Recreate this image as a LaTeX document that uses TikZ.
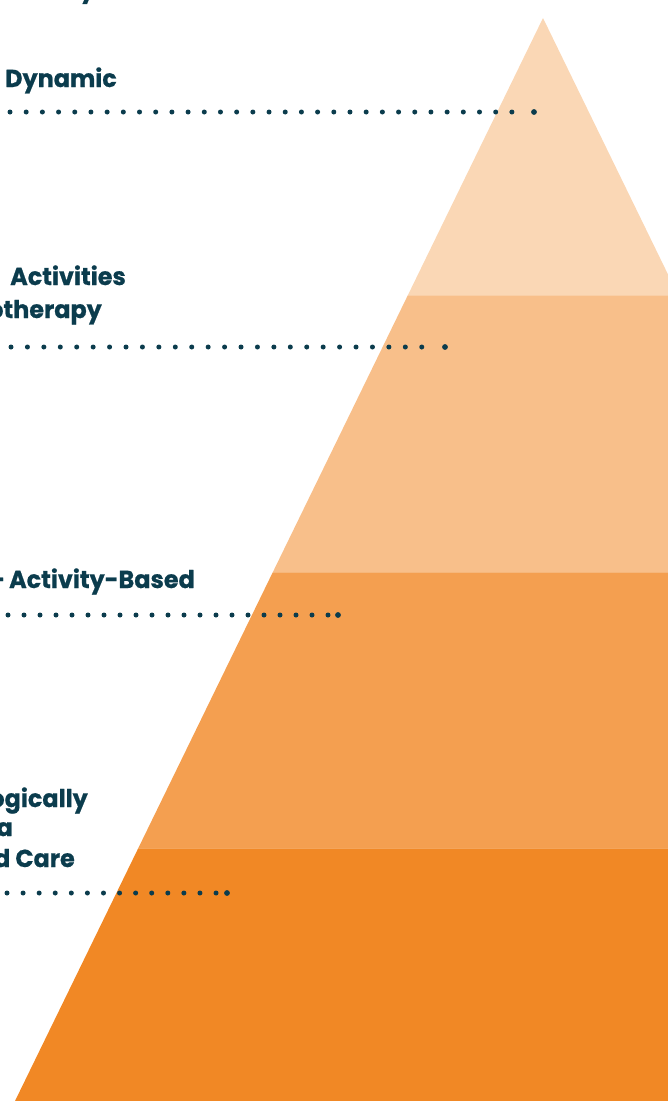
\documentclass[tikz,border=0pt]{standalone}
\usepackage{fontspec}
\setmainfont{Poppins}
\newfontfamily\tierfont{Poppins}[BoldFeatures={FakeBold=0.7,FakeStretch=0.975}]

\definecolor{tierA}{HTML}{FAD7B5}
\definecolor{tierB}{HTML}{F8BF8A}
\definecolor{tierC}{HTML}{F49F50}
\definecolor{tierD}{HTML}{F18825}
\definecolor{ink}{HTML}{0B3C4D}

\tikzset{
  tiertext/.style={font=\tierfont\bfseries\fontsize{24.5}{30}\selectfont,text=ink,inner sep=0pt,anchor=base east},
  dotrow/.style={draw=ink,line width=5pt,line cap=round,dash pattern=on 0pt off #1},
  enddot/.style={circle,fill=ink,inner sep=0pt,minimum size=5.8pt}
}

\begin{document}
\begin{tikzpicture}[x=1pt,y=-1pt]
                  \useasboundingbox (0,0) rectangle (668,1101);
                  \clip (0,0) rectangle (668,1101);
                  % pyramid in four tiers
                  \begin{scope}
                    \clip (543,18) -- (1071,1101) -- (15,1101) -- cycle;
                    \fill[tierA] (0,0) rectangle (668,295);
                    \fill[tierB] (0,295) rectangle (668,572);
                    \fill[tierC] (0,572) rectangle (668,848);
                    \fill[tierD] (0,848) rectangle (668,1101);
                    \foreach \y in {295,572,848}
                      \draw[white,opacity=0.25,line width=1pt] (0,\y) -- (668,\y);
                  \end{scope}
                  % labels
                  \node[tiertext,anchor=base west] (top) at (80,-2.5){y};
                  \node[tiertext] (dyn) at (117,87){Dynamic};
                  \node[tiertext] (act) at (126,285){Activities};
                  \node[tiertext] (psy) at (102,318){otherapy};
                  \node[tiertext] (task) at (195,588){-\hspace{0.16em}Activity-Based};
                  \node[tiertext] (bio) at (88,807){ogically};
                  \node[tiertext] (dem) at (13,836){a};
                  \node[tiertext] (care) at (75,867){d Care};
                  % dotted leaders
                  \coordinate (s1) at (10,112);   \coordinate (r1) at (512.5,112);
                  \coordinate (s2) at (11,347);   \coordinate (r2) at (422.3,347);
                  \coordinate (s3) at (8,615);    \coordinate (r3) at (328.5,615);
                  \coordinate (s4) at (7,893);    \coordinate (r4) at (216.5,893);
                  \node[enddot] (e1) at (534,112){};
                  \node[enddot] (e2) at (445,347){};
                  \node[enddot] (e3) at (338,615){};
                  \node[enddot] (e4) at (227,893){};
                  \draw[dotrow=16.19pt] (s1)--(r1);
                  \draw[dotrow=16.43pt] (s2)--(r2);
                  \draw[dotrow=16pt] (s3)--(r3);
                  \draw[dotrow=16.08pt] (s4)--(r4);
              \end{tikzpicture}
\end{document}
